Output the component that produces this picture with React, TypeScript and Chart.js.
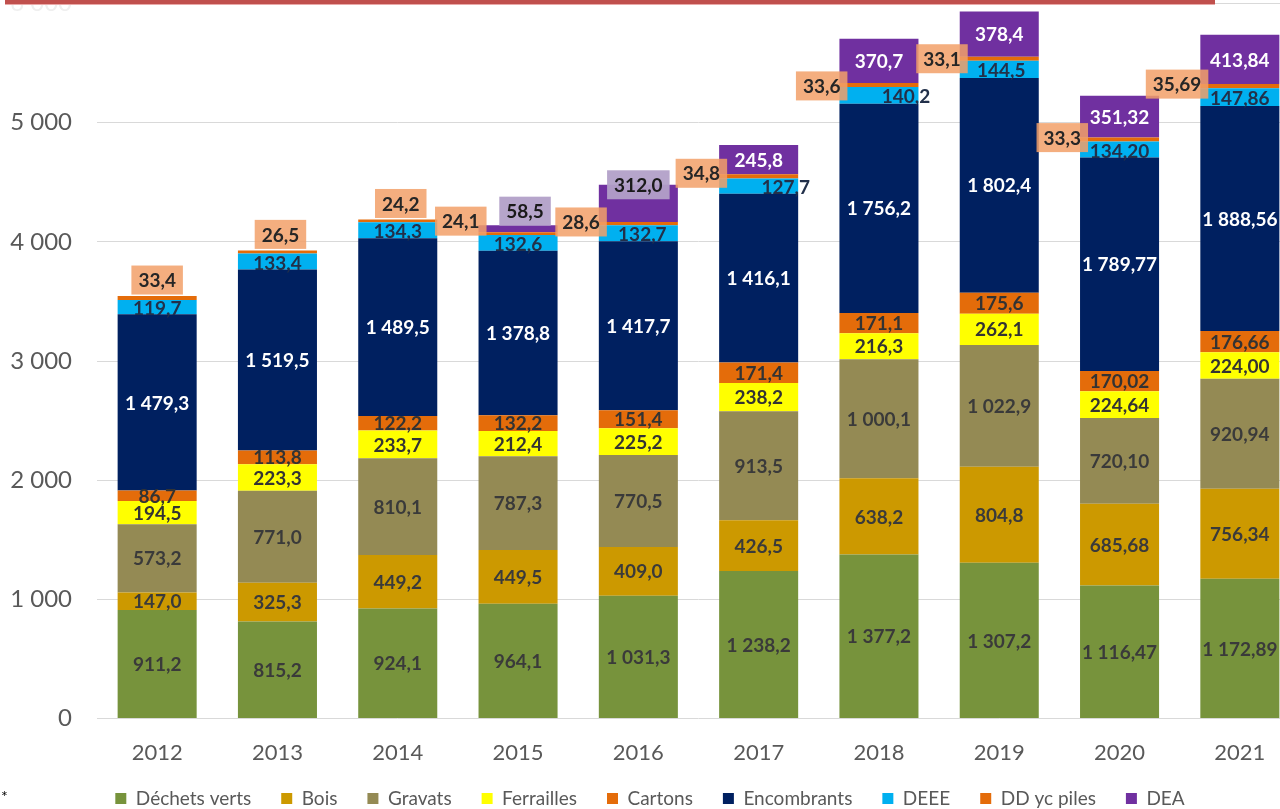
import React, { useEffect, useRef } from 'react';
import { Chart, registerables } from 'chart.js';

Chart.register(...registerables);

// ---------- data ----------
const years = ['2012', '2013', '2014', '2015', '2016', '2017', '2018', '2019', '2020', '2021'];
const dechetsVerts = [911.2, 815.2, 924.1, 964.1, 1031.3, 1238.2, 1377.2, 1307.2, 1116.47, 1172.89];
const bois = [147.0, 325.3, 449.2, 449.5, 409.0, 426.5, 638.2, 804.8, 685.68, 756.34];
const gravats = [573.2, 771.0, 810.1, 787.3, 770.5, 913.5, 1000.1, 1022.9, 720.1, 920.94];
const ferrailles = [194.5, 223.3, 233.7, 212.4, 225.2, 238.2, 216.3, 262.1, 224.64, 224.0];
const cartons = [86.7, 113.8, 122.2, 132.2, 151.4, 171.4, 171.1, 175.6, 170.02, 176.66];
const encombrants = [1479.3, 1519.5, 1489.5, 1378.8, 1417.7, 1416.1, 1756.2, 1802.4, 1789.77, 1888.56];
const deee = [119.7, 133.4, 134.3, 132.6, 132.7, 127.7, 140.2, 144.5, 134.2, 147.86];
const ddPiles = [33.4, 26.5, 24.2, 24.1, 28.6, 34.8, 33.6, 33.1, 33.3, 35.69];
const dea = [null, null, null, 58.5, 312.0, 245.8, 370.7, 378.4, 351.32, 413.84];
const decimals = [1, 1, 1, 1, 1, 1, 1, 1, 2, 2];
const ddDecimals = [1, 1, 1, 1, 1, 1, 1, 1, 1, 2];
const yTickValues = [0, 1000, 2000, 3000, 4000, 5000, 6000];

// ---------- label placement (styling, not data) ----------
const deeeDx = [0, 0, 0, 0, 4, 27, 27, 2, 0, 0];
const ddPlace = ['above', 'above', 'above', 'left', 'left', 'left', 'left', 'left', 'left', 'left'];
const ddDx = [0, 3, 3, 0, 0, 0, 0, 0, 0, 0];
const ddDy = [-16, -16, -16, -11, 0, -1, 3, 2, 0, 0];
const deaPlace = ['none', 'none', 'none', 'above', 'top', 'inside', 'inside', 'inside', 'inside', 'inside'];

const FONT = 'Lato, "Open Sans", sans-serif';
const LABEL_SIZE = 19;
const BOX_H = 29;
const DD_BOX = 'rgba(242,160,105,0.85)';
const DEA_BOX = 'rgba(178,160,200,0.95)';

function fmt(v: number, d: number): string {
  const s = v.toFixed(d);
  const [i, f] = s.split('.');
  const is = i.replace(/\B(?=(\d{3})+(?!\d))/g, ' ');
  return f ? is + ',' + f : is;
}

const segLabels = {
  id: 'segLabels',
  afterDatasetsDraw(chart: any) {
    const { ctx } = chart;
    ctx.save();
    ctx.textAlign = 'center';
    ctx.textBaseline = 'middle';
    ctx.font = `bold ${LABEL_SIZE}px ${FONT}`;
    const boxes: any[] = [];
    chart.data.datasets.forEach((ds: any, di: number) => {
      const meta = chart.getDatasetMeta(di);
      meta.data.forEach((el: any, j: number) => {
        const v = ds.data[j];
        if (v == null) return;
        const p = el.getProps(['x', 'y', 'base', 'width'], true);
        const kind = ds.labelKind;
        const text = fmt(v, kind === 'dd' ? ddDecimals[j] : decimals[j]);
        const mid = (p.y + p.base) / 2;
        if (kind === 'dd') {
          const w = ctx.measureText(text).width + 14;
          let cx: number;
          if (ddPlace[j] === 'above') cx = p.x + ddDx[j];
          else cx = p.x - p.width / 2 + 8 - w / 2;
          boxes.push({ cx, cy: p.y + ddDy[j], w, text, fill: DD_BOX, color: '#262626' });
        } else if (kind === 'dea') {
          const mode = deaPlace[j];
          const w = ctx.measureText(text).width + 14;
          if (mode === 'inside') {
            ctx.fillStyle = '#FFFFFF';
            ctx.fillText(text, p.x, mid + 1);
          } else if (mode === 'above') {
            boxes.push({ cx: p.x + 7, cy: p.y - 14, w, text, fill: DEA_BOX, color: '#1a1a1a' });
          } else if (mode === 'top') {
            boxes.push({ cx: p.x, cy: p.y, w, text, fill: DEA_BOX, color: '#1a1a1a' });
          }
        } else {
          ctx.fillStyle = ds.labelColor;
          const dx = kind === 'deee' ? deeeDx[j] : 0;
          const dy = kind === 'deee' ? 2 : 1;
          ctx.fillText(text, p.x + dx, mid + dy);
        }
      });
    });
    boxes.forEach((b) => {
      ctx.fillStyle = b.fill;
      ctx.fillRect(b.cx - b.w / 2, b.cy - BOX_H / 2, b.w, BOX_H);
      ctx.fillStyle = b.color;
      ctx.fillText(b.text, b.cx, b.cy + 1);
    });
    ctx.restore();
  },
};

export default function App() {
  const ref = useRef<HTMLCanvasElement | null>(null);

  useEffect(() => {
    if (!ref.current) return;
    const mk = (label: string, data: any[], color: string, labelKind: string, labelColor: string) => ({
      label,
      data,
      backgroundColor: color,
      borderWidth: 0,
      barPercentage: 0.657,
      categoryPercentage: 1,
      labelKind,
      labelColor,
    });
    const chart = new Chart(ref.current, {
      type: 'bar',
      data: {
        labels: years,
        datasets: [
          mk('Déchets verts', dechetsVerts, '#77933C', 'plain', '#3A3A3A'),
          mk('Bois', bois, '#CC9900', 'plain', '#3A3A3A'),
          mk('Gravats', gravats, '#948A54', 'plain', '#3A3A3A'),
          mk('Ferrailles', ferrailles, '#FFFF00', 'plain', '#333333'),
          mk('Cartons', cartons, '#E46C0A', 'plain', '#333333'),
          mk('Encombrants', encombrants, '#002060', 'plain', '#FFFFFF'),
          mk('DEEE', deee, '#00B0F0', 'deee', '#22304A'),
          mk('DD yc piles', ddPiles, '#E46C0A', 'dd', '#262626'),
          mk('DEA', dea, '#7030A0', 'dea', '#FFFFFF'),
        ] as any,
      },
      options: {
        responsive: false,
        animation: false,
        layout: { padding: 0 },
        plugins: {
          tooltip: { enabled: false },
          legend: {
            position: 'bottom',
            labels: {
              boxWidth: 11,
              boxHeight: 11,
              padding: 30,
              color: '#595959',
              font: { family: FONT, size: 19 },
            },
          },
        },
        scales: {
          x: {
            stacked: true,
            grid: { display: false, drawTicks: false },
            border: { display: false },
            ticks: { color: '#595959', font: { family: FONT, size: 22 }, padding: 21 },
            afterFit: (s: any) => {
              s.height -= 28;
              s._computeLabelArea = () => undefined;
            },
          },
          y: {
            stacked: true,
            min: 0,
            max: 6000,
            afterBuildTicks: (s: any) => {
              s.ticks = yTickValues.map((v) => ({ value: v }));
            },
            grid: { color: '#D9D9D9', lineWidth: 1, drawTicks: false },
            border: { display: false },
            ticks: {
              padding: 25,
              font: { family: FONT, size: 24 },
              color: (c: any) => (c.tick && c.tick.value === 6000 ? '#EFEFEF' : '#595959'),
              callback: (v: any) => fmt(Number(v), 0),
            },
            afterFit: (s: any) => {
              s.width = 97;
            },
          },
        },
      } as any,
      plugins: [segLabels],
    });
    return () => chart.destroy();
  }, []);

  return (
    <div style={{ position: 'fixed', left: 0, top: 0, width: 1280, height: 809, overflow: 'hidden', background: '#fff' }}>
      <canvas
        ref={ref}
        width={1300}
        height={854}
        style={{ position: 'absolute', left: 0, top: -36.4, width: 1300, height: 854 }}
      />
      <div style={{ position: 'absolute', left: 5, top: 0, width: 1210, height: 4, background: '#C0504D', borderBottom: '1px solid #E9A9A8' }} />
      <div style={{ position: 'absolute', left: 1, top: 786, fontFamily: FONT, fontSize: 16, color: '#000' }}>*</div>
    </div>
  );
}
